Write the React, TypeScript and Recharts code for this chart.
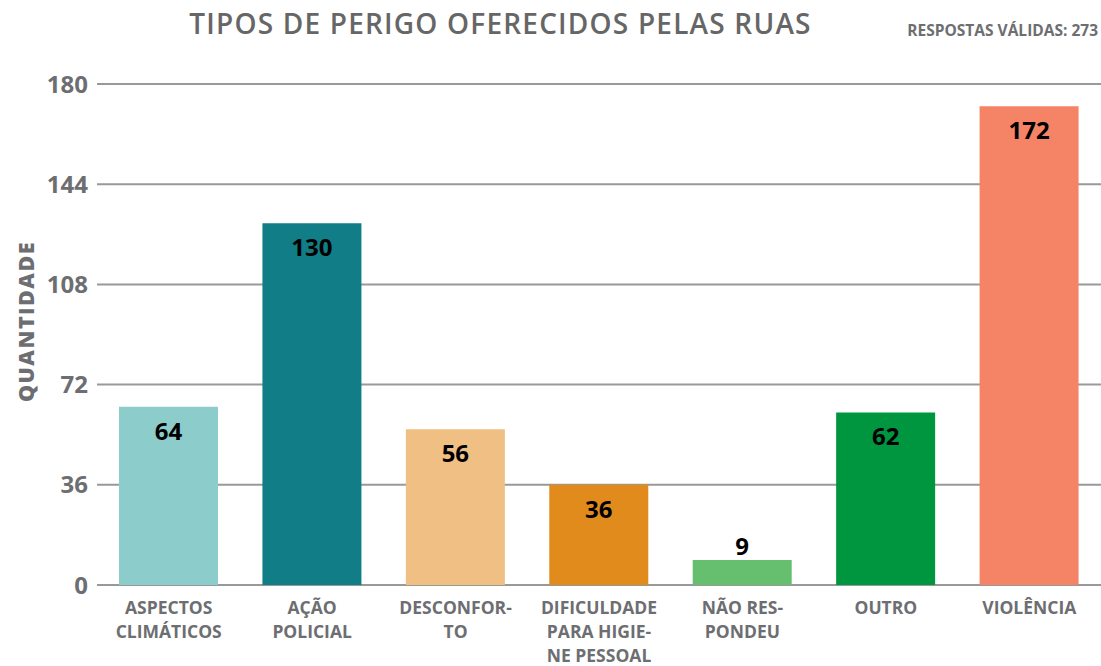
import React from "react";
import { BarChart, Bar, XAxis, YAxis, CartesianGrid, Cell, LabelList } from "recharts";

const categories = [
  "ASPECTOS\nCLIMÁTICOS",
  "AÇÃO\nPOLICIAL",
  "DESCONFOR-\nTO",
  "DIFICULDADE\nPARA HIGIE-\nNE PESSOAL",
  "NÃO RES-\nPONDEU",
  "OUTRO",
  "VIOLÊNCIA",
];
const values = [64, 130, 56, 36, 9, 62, 172];
const colors = ["#8ccccb", "#107d87", "#efbf84", "#e08b1c", "#66bf6e", "#00963f", "#f58466"];
const yTicks = [0, 36, 72, 108, 144, 180];

const title = "TIPOS DE PERIGO OFERECIDOS PELAS RUAS";
const subtitle = "RESPOSTAS VÁLIDAS: 273";
const yLabel = "QUANTIDADE";

const data = categories.map((c, i) => ({ name: c, value: values[i] }));

const GREY = "#6d6e71";
const FONT = "'Open Sans', sans-serif";

const XTick = (props: any) => {
  const { x, y, payload } = props;
  const lines = String(payload.value).split("\n");
  return (
    <g>
      {lines.map((l: string, i: number) => (
        <text
          key={i}
          x={x}
          y={y + 21 + i * 24}
          textAnchor="middle"
          fill={GREY}
          fontSize={17.5}
          fontWeight={700}
          fontFamily={FONT}
        >
          {l}
        </text>
      ))}
    </g>
  );
};

const ValueLabel = (props: any) => {
  const { x, y, width, height, value } = props;
  const inside = height > 40;
  return (
    <text
      x={x + width / 2}
      y={inside ? y + 33 : y - 5}
      textAnchor="middle"
      fill="#000"
      fontSize={24}
      fontWeight={700}
      fontFamily={FONT}
    >
      {value}
    </text>
  );
};

const YLabel = (props: any) => {
  const { viewBox } = props;
  const cx = 25;
  const cy = viewBox.y + viewBox.height / 2 - 13;
  return (
    <text
      x={cx}
      y={cy}
      transform={`rotate(-90, ${cx}, ${cy})`}
      textAnchor="middle"
      dominantBaseline="central"
      fill={GREY}
      fontSize={21.5}
      fontWeight={800}
      fontFamily={FONT}
      letterSpacing={1.5}
    >
      {yLabel}
    </text>
  );
};

export default function App() {
  return (
    <div style={{ position: "absolute", left: 0, top: 0, width: 1101, height: 666, background: "#fff" }}>
      <div
        style={{
          position: "absolute",
          left: 0,
          width: 1001,
          top: 4,
          textAlign: "center",
          fontFamily: FONT,
          fontSize: 28,
          fontWeight: 600,
          color: "#666",
          letterSpacing: 1.2,
        }}
      >
        {title}
      </div>
      <div
        style={{
          position: "absolute",
          right: 3,
          top: 19,
          fontFamily: FONT,
          fontSize: 15.5,
          fontWeight: 700,
          color: GREY,
        }}
      >
        {subtitle}
      </div>
      <BarChart
        width={1101}
        height={666}
        data={data}
        margin={{ top: 84, right: 0, bottom: 0, left: 0 }}
        barSize={99}
      >
        <CartesianGrid horizontal vertical={false} stroke="#999" strokeWidth={2} />
        <XAxis
          dataKey="name"
          height={81}
          axisLine={false}
          tickLine={false}
          interval={0}
          tick={<XTick />}
        />
        <YAxis
          width={97}
          domain={[0, 180]}
          ticks={yTicks}
          axisLine={false}
          tickLine={false}
          tickSize={0}
          tickMargin={9}
          tick={{ fill: GREY, fontSize: 24, fontWeight: 700, fontFamily: FONT }}
          label={<YLabel />}
        />
        <Bar dataKey="value" isAnimationActive={false}>
          {data.map((d, i) => (
            <Cell key={i} fill={colors[i]} />
          ))}
          <LabelList dataKey="value" content={<ValueLabel />} />
        </Bar>
      </BarChart>
    </div>
  );
}
